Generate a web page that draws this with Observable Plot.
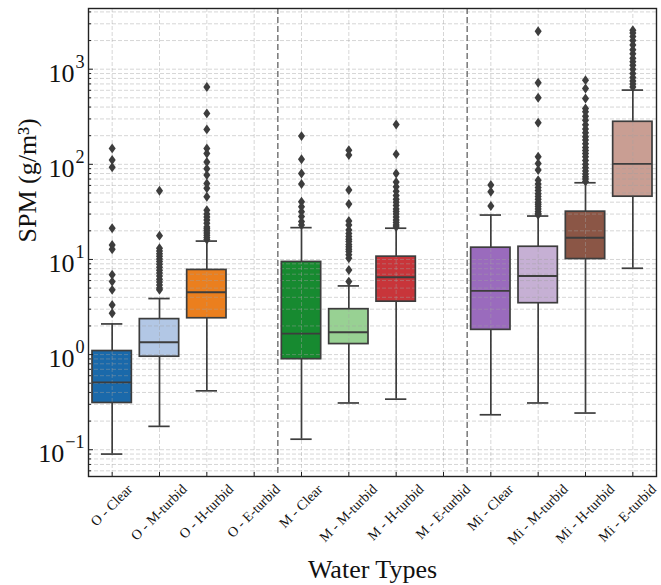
<!DOCTYPE html>
<html><head><meta charset="utf-8">
<script src="https://cdn.jsdelivr.net/npm/d3@7"></script>
<script src="https://cdn.jsdelivr.net/npm/@observablehq/plot@0.6"></script>
<style>body{margin:0;background:#fff} svg{display:block}</style>
</head><body><div id="chart"></div>
<script>
const categories = ["O - Clear","O - M-turbid","O - H-turbid","O - E-turbid","M - Clear","M - M-turbid","M - H-turbid","M - E-turbid","Mi - Clear","Mi - M-turbid","Mi - H-turbid","Mi - E-turbid"];
const colors = ["#1a69aa","#b2c7e5","#eb7f1e","#f7c08a","#178a30","#98d193","#c8353a","#f2a3a0","#9a6bbd","#c6b0d4","#8b5646","#c99e93"];
const whiskerLow  = [0.090, 0.176, 0.416, null, 0.129, 0.31, 0.34, null, 0.233, 0.31, 0.243, 8.08];
const q1          = [0.31, 0.95, 2.41, null, 0.895, 1.29, 3.6, null, 1.82, 3.47, 10.1, 45.7];
const median      = [0.51, 1.35, 4.52, null, 1.66, 1.72, 6.5, null, 4.67, 6.7, 16.9, 101];
const q3          = [1.09, 2.36, 7.76, null, 9.42, 3.0, 10.7, null, 13.3, 13.6, 31.8, 280];
const whiskerHigh = [2.10, 3.88, 15.6, null, 21.6, 5.27, 21.3, null, 29.3, 28.6, 64, 603];

const outliersOClear = [147, 111, 93, 21.3, 14.2, 12.8, 6.9, 5.85, 4.79, 3.33, 2.72];
const outliersOMturbid = [52.8, 17.8, 13.1, 12.3, 11.5, 10.8, 10.1, 9.5, 8.9, 8.3, 7.7, 7.2, 6.7, 6.2, 5.8, 5.4, 5.0, 4.8];
const outliersOHturbid = [651, 343, 233, 147, 130, 106, 90, 77, 63, 56, 45.7, 33, 30, 28, 26, 24, 22, 21, 20, 19, 18, 17, 16.2];
const outliersOEturbid = [];
const outliersMClear = [198, 113, 80, 62, 40.5, 35.8, 31.8, 28.2, 25, 23];
const outliersMMturbid = [141, 125, 53.7, 38.3, 25.4, 23, 20.4, 18.8, 17.4, 16.3, 15.4, 14.4, 13.6, 12.8, 12.1, 11.2, 10.3, 7.76, 5.85];
const outliersMHturbid = [262, 128, 80, 65, 58, 52, 47, 43, 40, 37, 34, 32, 30, 28, 26, 24.5, 23, 22];
const outliersMEturbid = [];
const outliersMiClear = [60.5, 51.5, 36.5];
const outliersMiMturbid = [2507, 719, 500, 273, 120, 102, 87, 68, 62, 57, 53, 49, 46, 43, 40, 38, 36, 34, 32, 30.5, 29.5];
const outliersMiHturbid = [767, 627, 492, 386, 356, 320, 290, 260, 235, 215, 195, 180, 165, 150, 140, 130, 120, 110, 100, 92, 85, 79, 74, 70, 66];
const outliersMiEturbid = [2570, 2400, 2200, 2000, 1800, 1600, 1450, 1300, 1200, 1100, 1000, 900, 820, 750, 700, 650];

const outlierLists = [outliersOClear, outliersOMturbid, outliersOHturbid, outliersOEturbid, outliersMClear, outliersMMturbid, outliersMHturbid, outliersMEturbid, outliersMiClear, outliersMiMturbid, outliersMiHturbid, outliersMiEturbid];
const groupStarts = ["M - Clear", "Mi - Clear"];
const yMajorTicks = [0.1, 1, 10, 100, 1000];
const yMinorTicks = [-2, -1, 0, 1, 2, 3].flatMap(e => [2,3,4,5,6,7,8,9].map(k => +(k * Math.pow(10, e)).toPrecision(3)));
const yTitle = "SPM (g/m³)";
const xTitle = "Water Types";

const rows = categories.map((c, i) => ({category: c, color: colors[i], lo: whiskerLow[i], q1: q1[i], med: median[i], q3: q3[i], hi: whiskerHigh[i]})).filter(d => d.med != null);
const outliers = categories.flatMap((c, i) => outlierLists[i].map(v => ({category: c, value: v})));

const W = 661, H = 585, ML = 88, MR = 5, MT = 8, MB = 109;
const bw = (W - ML - MR) / categories.length;
const yDomain = [0.0523, 4345];
const minorVisible = yMinorTicks.filter(v => v >= yDomain[0] && v <= yDomain[1]);

const thinDiamond = {draw(ctx, size) {
  const s = Math.sqrt(size), h = 0.7 * s, w = 0.5 * s;
  ctx.moveTo(0, -h); ctx.lineTo(w, 0); ctx.lineTo(0, h); ctx.lineTo(-w, 0); ctx.closePath();
}};

const ink = "#3d3d3d";
const grid = {stroke: "#a0a0a0", strokeOpacity: 0.55, strokeDasharray: "4,2", strokeWidth: 0.8};

const plot = Plot.plot({
  width: W, height: H, marginLeft: ML, marginRight: MR, marginTop: MT, marginBottom: MB,
  style: {fontFamily: "'Liberation Serif','Times New Roman',serif", background: "#fff", color: "#111"},
  x: {type: "band", domain: categories, padding: 0, round: false, label: null},
  y: {type: "log", domain: yDomain, label: null},
  color: {type: "identity"},
  marks: [
    Plot.barY(rows, {x: "category", y1: "q1", y2: "q3", fill: "color", insetLeft: 4, insetRight: 4}),
    Plot.ruleY(minorVisible, {y: d => d, ...grid}),
    Plot.ruleY(yMajorTicks, {y: d => d, ...grid}),
    Plot.ruleX(categories, {x: d => d, ...grid}),
    Plot.ruleX(groupStarts, {x: d => d, dx: -bw / 2, stroke: "#6e6e6e", strokeWidth: 1.4, strokeDasharray: "6,3"}),
    Plot.ruleX(rows, {x: "category", y1: "lo", y2: "q1", stroke: ink, strokeWidth: 1.7}),
    Plot.ruleX(rows, {x: "category", y1: "q3", y2: "hi", stroke: ink, strokeWidth: 1.7}),
    Plot.tickY(rows, {x: "category", y: "lo", stroke: ink, strokeWidth: 1.7, inset: 13}),
    Plot.tickY(rows, {x: "category", y: "hi", stroke: ink, strokeWidth: 1.7, inset: 13}),
    Plot.barY(rows, {x: "category", y1: "q1", y2: "q3", fill: "none", stroke: ink, strokeWidth: 1.7, insetLeft: 4, insetRight: 4}),
    Plot.tickY(rows, {x: "category", y: "med", stroke: ink, strokeWidth: 1.9, inset: 4}),
    Plot.dot(outliers, {x: "category", y: "value", symbol: thinDiamond, r: 4, fill: ink, stroke: "none"}),
    Plot.frame({stroke: "#222", strokeWidth: 1.4}),
    Plot.axisY(minorVisible, {tickSize: -3, tickFormat: () => "", stroke: "#222"}),
    Plot.axisY(yMajorTicks, {tickSize: -5, tickFormat: () => "", stroke: "#222"}),
    Plot.axisY(yMajorTicks, {tickSize: 0, tickPadding: 4, dy: 4, fontSize: 26, fill: "#111", tickFormat: d => "10^" + Math.round(Math.log10(d))}),
    Plot.axisX({tickSize: -4, tickFormat: () => "", stroke: "#222"}),
    Plot.axisX({tickSize: 0, tickPadding: 10, tickRotate: -45, fontSize: 14, fill: "#111"}),
    Plot.text([xTitle], {text: d => d, frameAnchor: "bottom", lineAnchor: "bottom", dy: 101, fontSize: 26, fill: "#111"}),
    Plot.text([yTitle], {text: d => d, frameAnchor: "left", rotate: -90, lineAnchor: "bottom", dx: -53, fontSize: 26, fill: "#111"})
  ]
});

document.getElementById("chart").appendChild(plot);

// superscript exponents on y tick labels
const ns = "http://www.w3.org/2000/svg";
plot.querySelectorAll('g[aria-label="y-axis tick label"] text').forEach(t => {
  const m = t.textContent.match(/^10\^(.+)$/);
  if (!m) return;
  t.textContent = "10";
  const s = document.createElementNS(ns, "tspan");
  s.setAttribute("font-size", "0.7em");
  s.setAttribute("dy", "-0.75em");
  s.setAttribute("dx", "1");
  s.textContent = m[1].replace("-", "\u2212");
  t.appendChild(s);
});

// center rotated x tick labels under their ticks (matplotlib style)
const xs = plot.scale("x");
const svgRect = plot.getBoundingClientRect();
plot.querySelectorAll('g[aria-label="x-axis tick label"] text').forEach(t => {
  const c = t.textContent;
  const i = categories.indexOf(c);
  if (i < 0) return;
  const cx = (xs && xs.apply ? xs.apply(c) : ML + i * bw) + (xs && xs.bandwidth ? xs.bandwidth : bw) / 2;
  const r = t.getBoundingClientRect();
  let shiftX = cx - (r.left + r.right) / 2 + svgRect.left;
  const overflow = (r.right - svgRect.left + shiftX) - (W - 2);
  if (overflow > 0) shiftX -= overflow;
  const shiftY = 481.5 - (r.top - svgRect.top);
  t.setAttribute("transform", `translate(${shiftX.toFixed(2)},${shiftY.toFixed(2)}) ` + (t.getAttribute("transform") || ""));
});
</script>
</body></html>
